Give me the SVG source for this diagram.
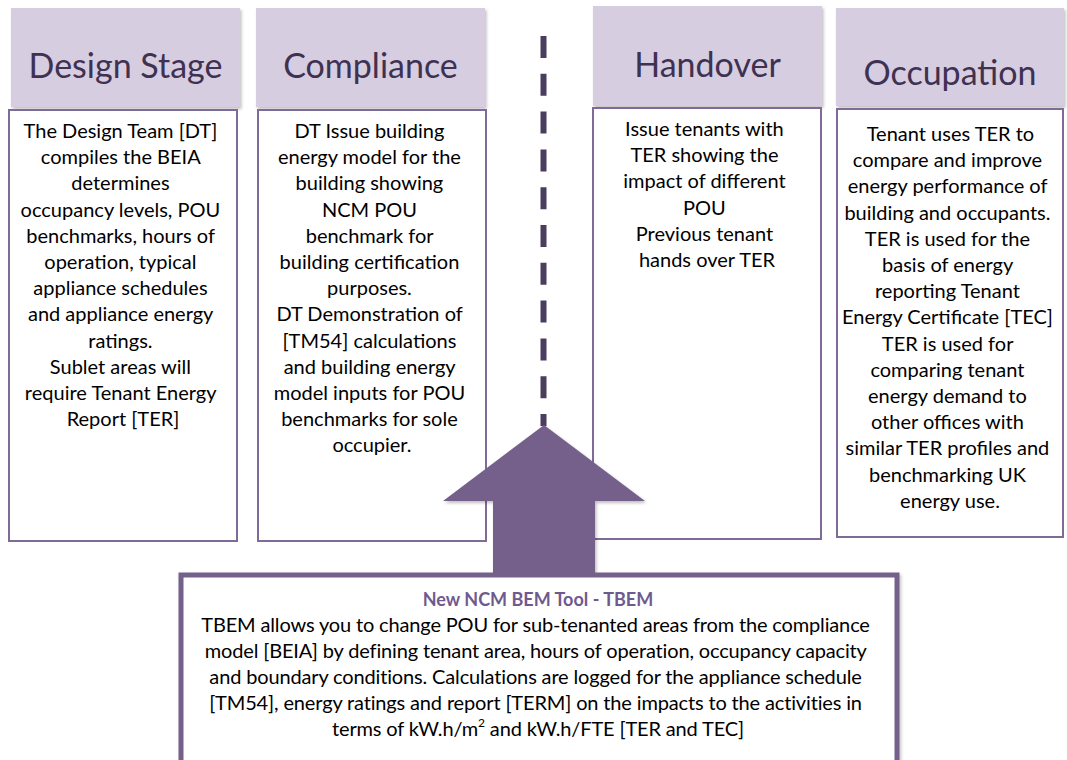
<svg xmlns="http://www.w3.org/2000/svg" width="1067" height="760" viewBox="0 0 1067 760">
<defs>
<filter id="sh" x="-10%" y="-10%" width="120%" height="130%">
<feDropShadow dx="1.5" dy="2" stdDeviation="1.5" flood-color="#000" flood-opacity="0.25"/>
</filter>
<style>
.hdr{fill:#d6cde1;filter:url(#sh)}
.htx{font-family:Lato,"Liberation Sans",sans-serif;font-size:34px;fill:#3f3151;text-anchor:middle}
.body{fill:#fff;stroke:#7f6a9a;stroke-width:2}
.btx{font-family:Lato,"Liberation Sans",sans-serif;font-size:20px;fill:#000;text-anchor:middle}
.ltx{font-family:Lato,"Liberation Sans",sans-serif;font-size:20px;fill:#000;text-anchor:middle;letter-spacing:-0.15px}
.dash{stroke:#4b3d5d;stroke-width:6;stroke-dasharray:22 15.8;fill:none}
.arrow{fill:#75608b;filter:url(#sh)}
.tbox{fill:#fff;stroke:#75608b;stroke-width:5;filter:url(#sh)}
.ttl{font-family:Lato,"Liberation Sans",sans-serif;font-size:18px;font-weight:bold;fill:#6f5a8f;text-anchor:middle}
</style>
</defs>
<rect width="1067" height="760" fill="#fff"/>

<g id="design">
<rect class="hdr" x="11" y="8" width="229" height="99"/>
<text class="htx" x="125.5" y="78">Design Stage</text>
<rect class="body" x="9" y="110" width="228" height="431"/>
<text class="btx">
<tspan x="123" y="138">The Design Team [DT]</tspan>
<tspan x="123" y="164.2">compiles the BEIA</tspan>
<tspan x="123" y="190.4">determines</tspan>
<tspan x="123" y="216.6">occupancy levels, POU</tspan>
<tspan x="123" y="242.8">benchmarks, hours of</tspan>
<tspan x="123" y="269">operation, typical</tspan>
<tspan x="123" y="295.2">appliance schedules</tspan>
<tspan x="123" y="321.4">and appliance energy</tspan>
<tspan x="123" y="347.6">ratings.</tspan>
<tspan x="123" y="373.8">Sublet areas will</tspan>
<tspan x="123" y="400">require Tenant Energy</tspan>
<tspan x="123" y="426.2">Report [TER]</tspan>
</text>
</g>

<g id="compliance">
<rect class="hdr" x="256" y="8" width="229" height="99"/>
<text class="htx" x="370.5" y="78">Compliance</text>
<rect class="body" x="258" y="110" width="228" height="431"/>
<text class="btx">
<tspan x="372" y="138">DT Issue building</tspan>
<tspan x="372" y="164.2">energy model for the</tspan>
<tspan x="372" y="190.4">building showing</tspan>
<tspan x="372" y="216.6">NCM POU</tspan>
<tspan x="372" y="242.8">benchmark for</tspan>
<tspan x="372" y="269">building certification</tspan>
<tspan x="372" y="295.2">purposes.</tspan>
<tspan x="372" y="321.4">DT Demonstration of</tspan>
<tspan x="372" y="347.6">[TM54] calculations</tspan>
<tspan x="372" y="373.8">and building energy</tspan>
<tspan x="372" y="400">model inputs for POU</tspan>
<tspan x="372" y="426.2">benchmarks for sole</tspan>
<tspan x="372" y="452.4">occupier.</tspan>
</text>
</g>

<g id="handover">
<rect class="hdr" x="593" y="6" width="229" height="100"/>
<text class="htx" x="707.5" y="77">Handover</text>
<rect class="body" x="593" y="108" width="228" height="431"/>
<text class="btx">
<tspan x="707" y="136">Issue tenants with</tspan>
<tspan x="707" y="162.2">TER showing the</tspan>
<tspan x="707" y="188.4">impact of different</tspan>
<tspan x="707" y="214.6">POU</tspan>
<tspan x="707" y="240.8">Previous tenant</tspan>
<tspan x="707" y="267">hands over TER</tspan>
</text>
</g>

<g id="occupation">
<rect class="hdr" x="836" y="8" width="228" height="98"/>
<text class="htx" x="950" y="85">Occupation</text>
<rect class="body" x="837" y="109" width="226" height="428"/>
<text class="btx">
<tspan x="953" y="141">Tenant uses TER to</tspan>
<tspan x="950" y="167.2">compare and improve</tspan>
<tspan x="950" y="193.4">energy performance of</tspan>
<tspan x="950" y="219.6">building and occupants.</tspan>
<tspan x="950" y="245.8">TER is used for the</tspan>
<tspan x="950" y="272">basis of energy</tspan>
<tspan x="950" y="298.2">reporting Tenant</tspan>
<tspan x="950" y="324.4">Energy Certificate [TEC]</tspan>
<tspan x="950" y="350.6">TER is used for</tspan>
<tspan x="950" y="376.8">comparing tenant</tspan>
<tspan x="950" y="403">energy demand to</tspan>
<tspan x="950" y="429.2">other offices with</tspan>
<tspan x="950" y="455.4">similar TER profiles and</tspan>
<tspan x="950" y="481.6">benchmarking UK</tspan>
<tspan x="950" y="507.8">energy use.</tspan>
</text>
</g>

<g id="connectors">
<line class="dash" x1="543.5" y1="36" x2="543.5" y2="426"/>
<path class="arrow" d="M544,425 L645,501 L595,501 L595,576 L493,576 L493,501 L443,501 Z"/>
</g>

<g id="tbem">
<rect class="tbox" x="181" y="575" width="716" height="200"/>
<text class="ttl" x="538" y="606">New NCM BEM Tool - TBEM</text>
<text class="ltx">
<tspan x="538" y="632">TBEM allows you to change POU for sub-tenanted areas from the compliance</tspan>
<tspan x="538" y="658">model [BEIA] by defining tenant area, hours of operation, occupancy capacity</tspan>
<tspan x="538" y="684">and boundary conditions. Calculations are logged for the appliance schedule</tspan>
<tspan x="538" y="710">[TM54], energy ratings and report [TERM] on the impacts to the activities in</tspan>
<tspan x="538" y="736">terms of kW.h/m<tspan dy="-9" font-size="12">2</tspan><tspan dy="9"> and kW.h/FTE [TER and TEC]</tspan></tspan>
</text>
</g>
</svg>
